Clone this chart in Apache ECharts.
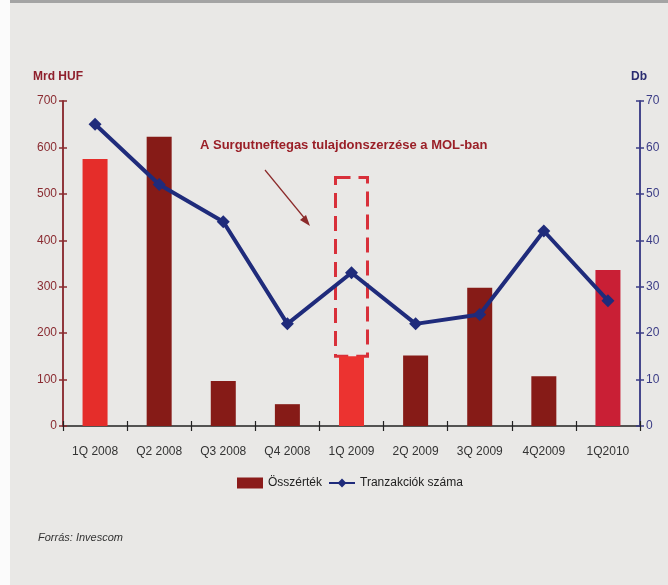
<!DOCTYPE html>
<html>
<head>
<meta charset="utf-8">
<script src="https://cdn.jsdelivr.net/npm/echarts@6/dist/echarts.min.js"></script>
<style>
  html, body { margin: 0; padding: 0; background: #fbfbfb; }
  #main { position: absolute; left: 10px; top: 0; width: 658px; height: 585px; background: #e9e8e6; border-top: 3px solid #a4a4a4; box-sizing: border-box; }
</style>
</head>
<body>
<div id="main"></div>
<script>
  var categories = ['1Q 2008', 'Q2 2008', 'Q3 2008', 'Q4 2008', '1Q 2009', '2Q 2009', '3Q 2009', '4Q2009', '1Q2010'];
  var osszertek = [575, 623, 97, 47, 150, 152, 298, 107, 336];
  var tranzakciok = [65, 52, 44, 22, 33, 22, 24, 42, 27];
  var barColors = ['#e52d2a', '#861b17', '#861b17', '#861b17', '#ec3330', '#861b17', '#861b17', '#861b17', '#c91f35'];
  var leftTicks = [0, 700, 100];
  var rightTicks = [0, 70, 10];

  var font = "'Liberation Sans Narrow', 'Liberation Sans', Arial, sans-serif";
  var red = '#8a2b31';
  var navy = '#3b3c86';

  var myChart = echarts.init(document.getElementById('main'));

  function yAx(pos, ticks, color, showLabel, inside) {
    return {
      type: 'value', position: pos, min: ticks[0], max: ticks[1], interval: ticks[2],
      splitLine: { show: false },
      axisLine: { show: true, lineStyle: { color: color, width: 1.5 } },
      axisTick: { show: true, inside: inside, length: 4, lineStyle: { color: color, width: 1.5 } },
      axisLabel: { show: showLabel, color: color, fontFamily: font, fontSize: 12, margin: 6 }
    };
  }

  var option = {
    animation: false,
    textStyle: { fontFamily: font },
    grid: { left: 53, right: 28, top: 98, bottom: 159 },
    legend: {
      left: 222, top: 469,
      itemWidth: 26, itemHeight: 11, itemGap: 6,
      textStyle: { fontFamily: font, fontSize: 12, color: '#222' },
      data: [
        { name: 'Összérték', icon: 'rect', itemStyle: { color: '#8b1b1a' } },
        { name: 'Tranzakciók száma' }
      ]
    },
    xAxis: [{
      type: 'category', data: categories,
      axisLine: { lineStyle: { color: '#222', width: 1.5 } },
      axisTick: { show: true, length: 5, lineStyle: { color: '#222', width: 1.2 } },
      axisLabel: { interval: 0, color: '#333', fontFamily: font, fontSize: 12, margin: 20 }
    }, {
      type: 'category', data: categories, position: 'bottom',
      axisLine: { show: false },
      axisTick: { show: true, inside: true, length: 5, lineStyle: { color: '#222', width: 1.2 } },
      axisLabel: { show: false }
    }],
    yAxis: [
      yAx('left', leftTicks, red, true, false),
      yAx('right', rightTicks, navy, true, false),
      yAx('left', leftTicks, red, false, true),
      yAx('right', rightTicks, navy, false, true)
    ],
    series: [{
      name: 'Összérték', type: 'bar', barWidth: 25,
      itemStyle: { color: '#8b1b1a' },
      data: osszertek.map(function (v, i) { return { value: v, itemStyle: { color: barColors[i] } }; })
    }, {
      name: 'Tranzakciók száma', type: 'line', yAxisIndex: 1,
      symbol: 'diamond', symbolSize: 13,
      lineStyle: { color: '#1f2b7b', width: 4 },
      itemStyle: { color: '#1f2b7b' },
      data: tranzakciok
    }]
  };
  myChart.setOption(option);

  // annotation: dashed box around the 1Q 2009 bar, arrow and label
  var bx = myChart.convertToPixel({ xAxisIndex: 0 }, '1Q 2009');
  var yTop = myChart.convertToPixel({ yAxisIndex: 0 }, 535);
  var yBot = myChart.convertToPixel({ yAxisIndex: 0 }, 150);
  myChart.setOption({
    graphic: [{
      type: 'text', left: 23, top: 68,
      style: { text: 'Mrd HUF', fill: '#8f1f2c', font: 'bold 12px ' + font }
    }, {
      type: 'text', left: 621, top: 68,
      style: { text: 'Db', fill: '#2a2c70', font: 'bold 12px ' + font }
    }, {
      type: 'text', left: 190, top: 136,
      style: { text: 'A Surgutneftegas tulajdonszerzése a MOL-ban', fill: '#9a1f27', font: 'bold 13px ' + font }
    }, {
      type: 'line', shape: { x1: 255, y1: 167, x2: 296, y2: 217 },
      style: { stroke: '#8b2a2a', lineWidth: 1.2 }
    }, {
      type: 'polygon', shape: { points: [[300, 223], [290, 217], [296, 212]] },
      style: { fill: '#8b2a2a' }
    }, {
      type: 'rect', shape: { x: bx - 16, y: yTop, width: 32, height: yBot - yTop },
      style: { fill: 'none', stroke: '#d8303a', lineWidth: 3, lineDash: [15, 8] }
    }, {
      type: 'text', left: 28, top: 529,
      style: { text: 'Forrás: Invescom', fill: '#333', font: 'italic 11px ' + font }
    }]
  });
</script>
</body>
</html>
